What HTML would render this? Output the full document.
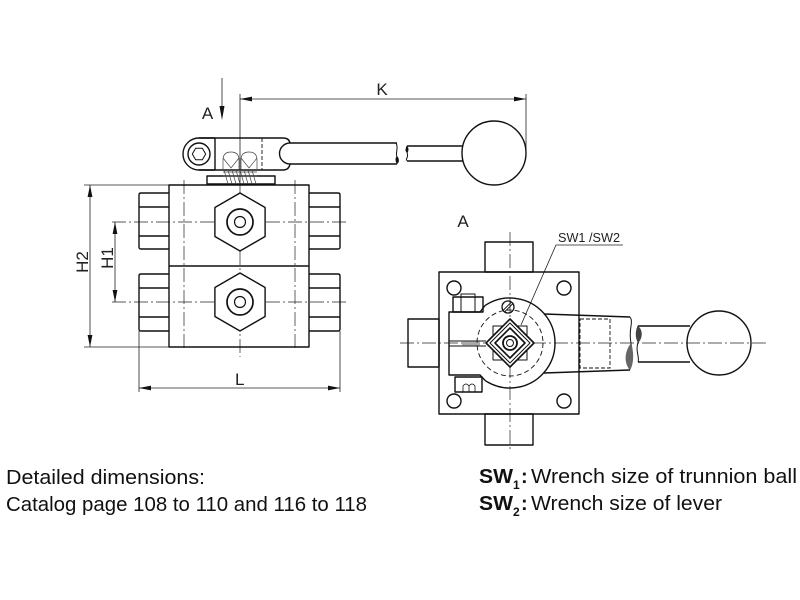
<!DOCTYPE html>
<html><head><meta charset="utf-8"><style>
html,body{margin:0;padding:0;background:#fff;}
svg{display:block;}
</style></head><body>
<svg width="800" height="600" viewBox="0 0 800 600" xmlns="http://www.w3.org/2000/svg">
<rect width="800" height="600" fill="#fff"/>

<!-- centerlines -->
<g fill="none" stroke="#222" stroke-width="0.7" stroke-dasharray="14 3 2 3">
  <path d="M112,222 H348"/>
  <path d="M112,302 H348"/>
  <path d="M240,185 V357"/>
  <path d="M184,180 V348"/>
  <path d="M295,180 V348"/>
  <path d="M510,232 V450"/>
  <path d="M400,343 H767"/>
</g>

<!-- thin dimension / extension lines -->
<g fill="none" stroke="#222" stroke-width="0.8">
  <path d="M240,94 V185"/>
  <path d="M526,94 V153"/>
  <path d="M240,99 H526"/>
  <path d="M222,78 V110"/>
  <path d="M84,185 H169"/>
  <path d="M84,347 H169"/>
  <path d="M90,185 V347"/>
  <path d="M115,222 V302"/>
  <path d="M139,331 V392"/>
  <path d="M340,331 V392"/>
  <path d="M139,388 H340"/>
  <path d="M521,325 L556,245 H623"/>
</g>

<!-- arrowheads -->
<g fill="#111" stroke="none">
  <polygon points="240,99 252,96.6 252,101.4"/>
  <polygon points="526,99 514,96.6 514,101.4"/>
  <polygon points="222,120 219.5,106 224.5,106"/>
  <polygon points="90,185 87.6,197 92.4,197"/>
  <polygon points="90,347 87.6,335 92.4,335"/>
  <polygon points="115,222 112.6,234 117.4,234"/>
  <polygon points="115,302 112.6,290 117.4,290"/>
  <polygon points="139,388 151,385.6 151,390.4"/>
  <polygon points="340,388 328,385.6 328,390.4"/>
</g>

<!-- LEFT VIEW outlines -->
<g fill="none" stroke="#111" stroke-width="1.4" stroke-linejoin="round">
  <rect x="169" y="185" width="140" height="162"/>
  <path d="M169,266 H309"/>
  <path d="M169,193 H141 Q139,193 139,195 V247 Q139,249 141,249 H169"/>
  <path d="M139,207 H169 M139,236 H169"/>
  <path d="M169,274 H141 Q139,274 139,276 V329 Q139,331 141,331 H169"/>
  <path d="M139,288 H169 M139,317 H169"/>
  <path d="M309,193 H338 Q340,193 340,195 V247 Q340,249 338,249 H309"/>
  <path d="M309,207 H340 M309,236 H340"/>
  <path d="M309,274 H338 Q340,274 340,276 V329 Q340,331 338,331 H309"/>
  <path d="M309,288 H340 M309,317 H340"/>
  <polygon points="240,193 265.1,207.5 265.1,236.5 240,251 214.9,236.5 214.9,207.5" fill="#fff"/>
  <polygon points="240,273 265.1,287.5 265.1,316.5 240,331 214.9,316.5 214.9,287.5" fill="#fff"/>
  <circle cx="240" cy="222" r="13" stroke-width="1.7"/>
  <circle cx="240" cy="302" r="13" stroke-width="1.7"/>
  <circle cx="240" cy="222" r="5.5" stroke-width="1.2"/>
  <circle cx="240" cy="302" r="5.5" stroke-width="1.2"/>
  <rect x="207" y="176" width="68" height="8"/>
  <path d="M215,138 H199 A16,16 0 0 0 199,170 H215"/>
  <path d="M199,138 H283 Q289,138 290,143 A10.5,10.5 0 0 0 290,164 Q289,170 283,170 H199"/>
  <path d="M215,138 V170"/>
  <circle cx="199" cy="154" r="11"/>
  <polygon points="205.7,154 202.35,148.2 195.65,148.2 192.3,154 195.65,159.8 202.35,159.8" stroke-width="1"/>
  <path d="M290,143 H397 M290,164 H397"/>
  <path d="M396,143 C399,148 395,153 397,157 C399,161 396,163 397,164" stroke-width="1"/>
  <path d="M407,146 H463 M407,161 H463"/>
  <path d="M407,146 C405,150 409,154 407,158 C405,160 408,161 407,161" stroke-width="1"/>
  <circle cx="494" cy="153" r="32"/>
</g>
<path d="M262,138 V170" stroke="#111" stroke-width="0.9" stroke-dasharray="4 2" fill="none"/>
<path d="M397,156 C400,159 399,163 397,164 C395,161 395,158 397,156 Z" fill="#111"/>
<path d="M407,146 C405,149 405,151 407,153 C409,151 409,148 407,146 Z" fill="#111"/>
<g fill="none" stroke="#444" stroke-width="0.7">
  <path d="M223,170 V160 Q223,152 231,152 Q239,152 239,160 V170"/>
  <path d="M223,158 L231,168 L239,158"/>
  <path d="M241,170 V160 Q241,152 249,152 Q257,152 257,160 V170"/>
  <path d="M241,158 L249,168 L257,158"/>
  <path d="M224,170 L228,184 M228,170 L232,184 M232,170 L236,184 M236,170 L240,184 M240,170 L244,184 M244,170 L248,184 M248,170 L252,184 M252,170 L256,184"/>
  <path d="M223,172 H257 M223,176 H257"/>
</g>

<!-- RIGHT VIEW -->
<g fill="none" stroke="#111" stroke-width="1.4" stroke-linejoin="round">
  <rect x="485" y="242" width="48" height="30"/>
  <rect x="485" y="414" width="48" height="31"/>
  <rect x="408" y="319" width="31" height="48"/>
  <rect x="439" y="272" width="140" height="142"/>
  <circle cx="454" cy="288" r="7"/>
  <circle cx="564" cy="288" r="7"/>
  <circle cx="454" cy="401" r="7"/>
  <circle cx="564" cy="401" r="7"/>
  <path d="M485,305.6 A45,45 0 1 1 485,380.4"/>
  <path d="M485,305.6 L480,312 H449 V375 H480 L485,380.4"/>
  <path d="M544,314 L630,317 M544,373 L630,370"/>
  <path d="M630,317 C634,322 628,330 631,343 C634,356 626,364 630,370" stroke-width="1"/>
  <path d="M638,326 C635,333 641,338 638,343 C635,350 640,358 638,362" stroke-width="1"/>
  <path d="M638,326 H690 M638,362 H690"/>
  <circle cx="719" cy="343" r="32"/>
  <rect x="453" y="297" width="30" height="15"/>
  <rect x="461" y="294" width="14" height="3" stroke-width="1"/>
  <path d="M461,297 V312 M475,297 V312" stroke-width="1"/>
  <path d="M455,377 V392 H482 V377 Z"/>
  <path d="M463,392 V386 Q466,382 469,386 V392 M469,386 Q472,382 475,386 V392" stroke-width="0.8"/>
  <path d="M449,341 H486 M449,346 H486" stroke-width="1"/>
  <circle cx="508" cy="307" r="6" stroke-width="1.3"/>
  <path d="M503.5,310 L511,302.5 M505,311.5 L512.5,304" stroke-width="0.9"/>
  <rect x="493" y="326" width="34" height="34" stroke-width="1"/>
  <polygon points="510,319 534,343 510,367 486,343" fill="#fff" stroke-width="1.6"/>
  <polygon points="510,323 530,343 510,363 490,343" stroke-width="1"/>
  <polygon points="510,328 525,343 510,358 495,343" stroke-width="1.6"/>
  <circle cx="510" cy="343" r="7" stroke-width="1.8"/>
  <circle cx="510" cy="343" r="3.5" stroke-width="1"/>
</g>
<rect x="462" y="341.7" width="18" height="3.6" fill="#aaa"/>
<circle cx="510" cy="343" r="33" fill="none" stroke="#111" stroke-width="0.9" stroke-dasharray="5 3"/>
<path d="M580,319 H610 V368 H580 Z" fill="none" stroke="#111" stroke-width="0.9" stroke-dasharray="4 2"/>
<path d="M631,343 C634,352 634,364 630,370 C624,364 624,352 631,343 Z" fill="#666"/>
<path d="M638,326 C643,330 643,338 638,343 C635,338 635,330 638,326 Z" fill="#444"/>

<g font-family="'Liberation Sans', sans-serif" fill="#222" font-size="17">
  <text x="207.5" y="119" text-anchor="middle">A</text>
  <text x="382" y="95" text-anchor="middle">K</text>
  <text x="235" y="385">L</text>
  <text x="463" y="227" text-anchor="middle">A</text>
  <text transform="translate(88,262) rotate(-90)" text-anchor="middle">H2</text>
  <text transform="translate(113,258) rotate(-90)" text-anchor="middle">H1</text>
  <text x="558" y="242" font-size="12.5" textLength="62" lengthAdjust="spacingAndGlyphs">SW1 /SW2</text>
</g>

<g font-family="'Liberation Sans', sans-serif" fill="#111" font-size="20">
  <text x="6" y="484" textLength="199" lengthAdjust="spacingAndGlyphs">Detailed dimensions:</text>
  <text x="6" y="511" textLength="361" lengthAdjust="spacingAndGlyphs">Catalog page 108 to 110 and 116 to 118</text>
  <text x="479" y="483" font-weight="bold" textLength="34" lengthAdjust="spacingAndGlyphs">SW</text>
  <text x="513" y="489" font-weight="bold" font-size="12">1</text>
  <text x="521" y="483" font-weight="bold">:</text>
  <text x="531" y="483" textLength="266" lengthAdjust="spacingAndGlyphs">Wrench size of trunnion ball</text>
  <text x="479" y="510" font-weight="bold" textLength="34" lengthAdjust="spacingAndGlyphs">SW</text>
  <text x="513" y="516" font-weight="bold" font-size="12">2</text>
  <text x="521" y="510" font-weight="bold">:</text>
  <text x="531" y="510" textLength="191" lengthAdjust="spacingAndGlyphs">Wrench size of lever</text>
</g>
</svg>
</body></html>
